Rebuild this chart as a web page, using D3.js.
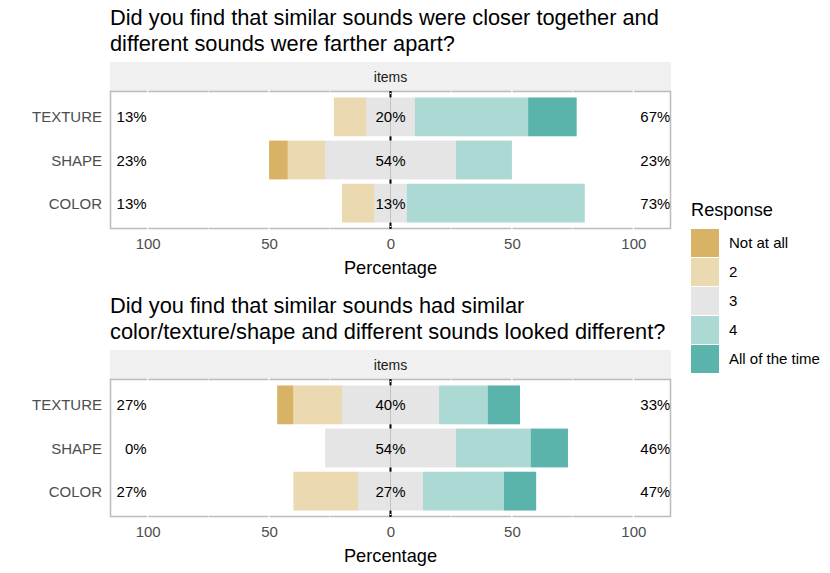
<!DOCTYPE html>
<html>
<head>
<meta charset="utf-8">
<script src="https://cdn.jsdelivr.net/npm/d3@7"></script>
<style>
  html, body { margin: 0; padding: 0; background: #fff; }
  svg { display: block; font-family: "Liberation Sans", Arial, Helvetica, sans-serif; }
</style>
</head>
<body>
<svg id="chart" width="830" height="573"></svg>
<script>
// ---------- data ----------
const items = ["TEXTURE", "SHAPE", "COLOR"];
const levels = ["Not at all", "2", "3", "4", "All of the time"];
const colors = ["#D8B365", "#EBD9B2", "#E5E5E5", "#ADD9D5", "#5AB4AC"];
const xTicks = [-100, -50, 0, 50, 100];

const titles1 = ["Did you find that similar sounds were closer together and",
                 "different sounds were farther apart?"];
const titles2 = ["Did you find that similar sounds had similar",
                 "color/texture/shape and different sounds looked different?"];

// percentages per item for each level (Not at all, 2, 3, 4, All of the time)
const q1NotAtAll = [0, 7.69, 0];
const q1Two      = [13.33, 15.38, 13.33];
const q1Three    = [20.00, 53.85, 13.33];
const q1Four     = [46.67, 23.08, 73.33];
const q1All      = [20.00, 0, 0];

const q2NotAtAll = [6.67, 0, 0];
const q2Two      = [20.00, 0, 26.67];
const q2Three    = [40.00, 53.85, 26.67];
const q2Four     = [20.00, 30.77, 33.33];
const q2All      = [13.33, 15.38, 13.33];

const q1 = [q1NotAtAll, q1Two, q1Three, q1Four, q1All];
const q2 = [q2NotAtAll, q2Two, q2Three, q2Four, q2All];

// ---------- drawing ----------
const svg = d3.select("#chart");
const L = 110.5, R = 670.5;
const x = d3.scaleLinear().domain([-115.3, 115.3]).range([L, R]);
const axisGray = "#4D4D4D";
const fsTitle = 21.8, fsText = 15, fsAxisTitle = 18.2, fsStrip = 14;

function drawPanel(series, titleLines, top) {
  const g = svg.append("g");
  // title
  titleLines.forEach((t, i) => {
    g.append("text").attr("x", 110).attr("y", top + 25 + i * 26)
      .attr("font-size", fsTitle).attr("fill", "#000").text(t);
  });
  const stripTop = top + 62, stripH = 29;
  const pTop = stripTop + stripH, pBot = pTop + 138;
  // strip
  g.append("rect").attr("x", L - 0.5).attr("y", stripTop).attr("width", R - L + 1).attr("height", stripH)
    .attr("fill", "#F0F0F0");
  g.append("text").attr("x", (L + R) / 2).attr("y", stripTop + stripH / 2 + 5)
    .attr("text-anchor", "middle").attr("font-size", fsStrip).attr("fill", "#1A1A1A").text("items");

  const y = d3.scaleLinear().domain([0.4, 3.6]).range([pTop, pBot]);
  const bh = y(0.9) - y(0);

  // zero line (behind bars)
  g.append("line").attr("x1", x(0)).attr("x2", x(0)).attr("y1", pTop).attr("y2", pBot)
    .attr("stroke", "#000").attr("stroke-width", 2);

  items.forEach((item, i) => {
    const yc = y(i + 1);
    const vals = series.map(s => s[i]);
    const segs = [];
    // negative side: half neutral, then 2, then Not at all
    let neg = -vals[2] / 2;
    segs.push({ x0: neg, x1: 0, c: colors[2] });
    segs.push({ x0: neg - vals[1], x1: neg, c: colors[1] }); neg -= vals[1];
    segs.push({ x0: neg - vals[0], x1: neg, c: colors[0] }); neg -= vals[0];
    let pos = vals[2] / 2;
    segs.push({ x0: 0, x1: pos, c: colors[2] });
    segs.push({ x0: pos, x1: pos + vals[3], c: colors[3] }); pos += vals[3];
    segs.push({ x0: pos, x1: pos + vals[4], c: colors[4] }); pos += vals[4];
    segs.filter(s => s.x1 - s.x0 > 0.01).forEach(s => {
      g.append("rect").attr("x", x(s.x0)).attr("y", yc - bh / 2)
        .attr("width", x(s.x1) - x(s.x0)).attr("height", bh).attr("fill", s.c);
    });
    // seam between neutral halves
    g.append("line").attr("x1", x(0)).attr("x2", x(0)).attr("y1", yc - bh / 2).attr("y2", yc + bh / 2)
      .attr("stroke", "#D2D2D2").attr("stroke-width", 0.6);

    const low = vals[0] + vals[1], high = vals[3] + vals[4], neu = vals[2];
    g.append("text").attr("x", x(-100) - 1).attr("y", yc + 5.5).attr("text-anchor", "end")
      .attr("font-size", fsText).attr("fill", "#000").text(Math.round(low) + "%");
    g.append("text").attr("x", x(0)).attr("y", yc + 5.5).attr("text-anchor", "middle")
      .attr("font-size", fsText).attr("fill", "#000").text(Math.round(neu) + "%");
    g.append("text").attr("x", x(100) + 7).attr("y", yc + 5.5).attr("text-anchor", "start")
      .attr("font-size", fsText).attr("fill", "#000").text(Math.round(high) + "%");
    // item labels
    g.append("text").attr("x", 102).attr("y", yc + 5.5).attr("text-anchor", "end")
      .attr("font-size", fsText).attr("fill", axisGray).text(item);
  });

  // panel border
  g.append("rect").attr("x", L).attr("y", pTop + 0.5).attr("width", R - L).attr("height", pBot - pTop - 1)
    .attr("fill", "none").attr("stroke", "#BEBEBE").attr("stroke-width", 1.6);
  // white grid breaks over border
  const gridVals = d3.range(-100, 101, 25);
  gridVals.forEach(v => {
    [[pTop - 1, pTop + 3], [pBot - 3, pBot + 1]].forEach(([a, b]) => {
      g.append("line").attr("x1", x(v)).attr("x2", x(v)).attr("y1", a).attr("y2", b)
        .attr("stroke", "#fff").attr("stroke-width", v % 50 === 0 ? 1.2 : 0.6);
    });
  });
  // re-draw zero line over top/bottom border
  g.append("line").attr("x1", x(0)).attr("x2", x(0)).attr("y1", pTop).attr("y2", pTop + 2)
    .attr("stroke", "#000").attr("stroke-width", 2);
  g.append("line").attr("x1", x(0)).attr("x2", x(0)).attr("y1", pBot - 2).attr("y2", pBot)
    .attr("stroke", "#000").attr("stroke-width", 2);

  // x axis
  const ax = g.append("g").attr("transform", `translate(0,${pBot})`)
    .call(d3.axisBottom(x).tickValues(xTicks).tickFormat(d => Math.abs(d)).tickSize(0).tickPadding(9));
  ax.select(".domain").remove();
  ax.selectAll("text").attr("font-size", fsText).attr("fill", axisGray)
    .attr("font-family", "Liberation Sans, Arial, sans-serif");
  g.append("text").attr("x", x(0)).attr("y", pBot + 45).attr("text-anchor", "middle")
    .attr("font-size", fsAxisTitle).attr("fill", "#000").text("Percentage");
}

drawPanel(q1, titles1, 0);
drawPanel(q2, titles2, 288);

// legend
const lg = svg.append("g");
lg.append("text").attr("x", 691).attr("y", 216).attr("font-size", fsAxisTitle).attr("fill", "#000").text("Response");
levels.forEach((lv, i) => {
  const ky = 229 + i * 29;
  lg.append("rect").attr("x", 691).attr("y", ky).attr("width", 28).attr("height", 28)
    .attr("fill", colors[i]);
  lg.append("text").attr("x", 729).attr("y", ky + 14 + 5).attr("font-size", fsText)
    .attr("fill", "#000").text(lv);
});
</script>
</body>
</html>
